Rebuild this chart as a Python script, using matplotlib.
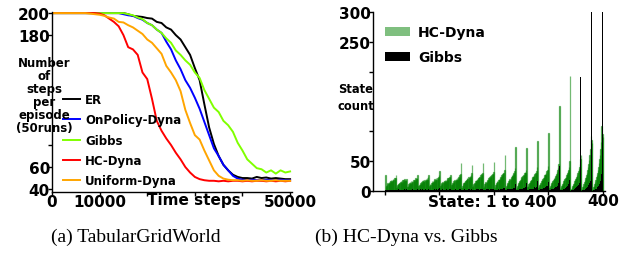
import numpy as np
import matplotlib.pyplot as plt
from matplotlib.patches import Patch

# ---- (a) TabularGridWorld: steps per episode, sampled every 1000 time steps
steps = list(range(0, 50001, 1000))

er = [200] * 16 + [199, 197.5, 197, 196.5, 195.5, 195, 192, 191, 187, 185, 180, 176, 169, 162, 150,
                   139, 117, 96, 81, 70, 62, 57, 53, 51, 50,
                   50, 49.5, 51, 50, 50.5, 49.5, 50, 49.5, 49, 49]
onpolicy = [200] * 15 + [199, 198, 197.5, 195.5, 194, 191, 189, 185, 182, 174, 167, 157, 149, 139, 132,
                         123, 113, 101, 89, 77, 70, 62, 57, 52, 49.5, 48.5,
                         48, 48.5, 48, 48, 48.5, 48, 48, 48.5, 48, 48]
gibbs = [200] * 16 + [199, 198, 196, 194.5, 191, 189, 185, 182, 177, 173, 166, 162, 157, 153, 146,
                      141, 130, 122, 114, 110, 102, 98, 92, 82, 75, 67, 63, 59, 58, 55, 57, 54, 57, 55, 56]
hc_dyna = [200] * 10 + [199.5, 198, 195, 192, 188, 180, 169, 167, 162, 146, 140, 122, 102, 93, 86,
                        80, 73, 67, 60, 55, 51, 49, 48, 47.5,
                        47.5, 47, 47.5, 47, 47.5, 47.5, 47, 47.5, 47, 47.5, 47.5, 47, 47.5, 47, 47.5, 47, 47.5]
uniform = [200] * 8 + [199.5, 199, 198.5, 197.5, 196, 195, 192, 191.5, 189, 187, 184, 181, 176, 173, 168,
                       163, 152, 146, 139, 129, 112, 100, 89, 85, 75, 66, 57, 52, 49.5, 48.5,
                       48, 48, 47.5, 48, 47.5, 47.5, 48, 47.5, 47.5, 48, 47.5, 47.5, 47.5]

curves = [('ER', er, 'black'), ('OnPolicy-Dyna', onpolicy, 'blue'), ('Gibbs', gibbs, '#80ff00'),
          ('HC-Dyna', hc_dyna, 'red'), ('Uniform-Dyna', uniform, 'orange')]

# ---- (b) state visit counts, 20 rows of 20 states
hc_rows = [
    [27, 6, 9, 11, 13, 12, 15, 14, 17, 16, 18, 15, 19, 17, 20, 18, 21, 19, 22, 27],
    [5, 8, 10, 12, 11, 14, 13, 15, 17, 14, 16, 18, 15, 19, 17, 20, 18, 16, 19, 20],
    [6, 9, 11, 10, 13, 15, 12, 16, 14, 17, 15, 18, 16, 19, 17, 21, 18, 20, 22, 27],
    [5, 8, 10, 12, 14, 11, 15, 13, 16, 18, 15, 17, 19, 16, 20, 18, 21, 19, 23, 27],
    [6, 9, 12, 10, 14, 16, 13, 17, 15, 18, 20, 17, 19, 21, 18, 22, 20, 23, 26, 33],
    [5, 9, 11, 13, 12, 15, 14, 17, 16, 18, 15, 19, 17, 20, 22, 19, 21, 23, 24, 27],
    [6, 10, 12, 14, 13, 16, 15, 18, 17, 20, 19, 22, 18, 21, 24, 22, 26, 24, 28, 47],
    [5, 9, 11, 13, 15, 14, 17, 16, 19, 18, 21, 20, 23, 19, 22, 25, 23, 27, 30, 44],
    [6, 10, 12, 14, 13, 16, 18, 17, 20, 19, 22, 21, 24, 23, 26, 24, 28, 27, 31, 47],
    [5, 8, 11, 13, 15, 14, 17, 19, 18, 21, 20, 23, 22, 25, 24, 27, 29, 28, 32, 48],
    [4, 7, 10, 12, 14, 16, 15, 18, 20, 19, 22, 24, 23, 26, 25, 29, 31, 30, 35, 60],
    [4, 7, 9, 12, 14, 13, 16, 18, 20, 19, 22, 24, 26, 25, 28, 30, 29, 33, 38, 74],
    [4, 6, 9, 11, 13, 15, 17, 16, 19, 21, 23, 22, 25, 27, 26, 30, 32, 31, 36, 72],
    [3, 6, 8, 11, 13, 15, 17, 19, 18, 21, 23, 25, 24, 27, 29, 31, 30, 34, 40, 83],
    [3, 5, 8, 10, 12, 14, 16, 18, 20, 19, 22, 24, 26, 28, 27, 31, 33, 36, 42, 98],
    [3, 5, 7, 9, 11, 13, 15, 17, 19, 21, 20, 23, 25, 27, 29, 32, 35, 38, 45, 143],
    [2, 4, 6, 8, 10, 12, 14, 16, 18, 20, 22, 24, 26, 28, 30, 33, 36, 40, 50, 192],
    [2, 4, 6, 8, 10, 12, 14, 16, 18, 20, 22, 24, 27, 30, 33, 37, 41, 46, 53, 60],
    [2, 4, 6, 9, 12, 15, 18, 21, 24, 27, 31, 35, 40, 45, 52, 60, 70, 92, 85, 80],
    [2, 4, 6, 9, 12, 15, 19, 23, 27, 31, 36, 41, 47, 53, 60, 70, 82, 109, 95, 90],
]
gibbs_rows = [
    [2, 1, 2, 3, 1, 2, 2, 1, 3, 2, 1, 2, 3, 2, 1, 2, 2, 3, 2, 3],
    [1, 2, 1, 2, 3, 2, 1, 2, 2, 1, 3, 2, 2, 1, 2, 3, 2, 2, 1, 3],
    [2, 1, 2, 1, 2, 3, 2, 2, 1, 2, 3, 1, 2, 2, 3, 2, 1, 2, 3, 4],
    [1, 2, 2, 1, 3, 2, 1, 2, 3, 2, 2, 1, 2, 3, 2, 2, 3, 2, 3, 4],
    [2, 1, 2, 2, 1, 3, 2, 1, 2, 2, 3, 2, 1, 2, 3, 2, 2, 3, 3, 5],
    [1, 2, 1, 2, 2, 3, 2, 2, 1, 3, 2, 2, 3, 2, 2, 3, 2, 3, 3, 4],
    [2, 1, 2, 2, 3, 2, 1, 2, 3, 2, 2, 3, 2, 3, 2, 3, 3, 2, 4, 6],
    [1, 2, 2, 1, 2, 3, 2, 2, 3, 2, 3, 2, 3, 2, 3, 3, 2, 4, 3, 6],
    [2, 1, 2, 2, 3, 2, 2, 3, 2, 3, 2, 3, 3, 2, 3, 4, 3, 3, 4, 7],
    [1, 2, 1, 2, 2, 3, 2, 3, 2, 3, 3, 2, 3, 4, 3, 3, 4, 3, 4, 8],
    [1, 2, 2, 1, 2, 3, 2, 3, 3, 2, 3, 4, 3, 3, 4, 3, 4, 5, 5, 10],
    [1, 1, 2, 2, 3, 2, 3, 2, 3, 4, 3, 3, 4, 4, 3, 5, 4, 5, 6, 12],
    [1, 2, 1, 2, 2, 3, 3, 2, 4, 3, 4, 3, 4, 5, 4, 5, 5, 6, 7, 14],
    [1, 1, 2, 2, 3, 2, 3, 4, 3, 4, 4, 5, 4, 5, 6, 5, 6, 7, 8, 16],
    [1, 1, 2, 2, 2, 3, 3, 4, 3, 4, 5, 4, 5, 6, 6, 7, 8, 9, 10, 15],
    [1, 1, 1, 2, 2, 3, 3, 3, 4, 4, 5, 5, 6, 6, 7, 8, 9, 11, 14, 42],
    [1, 1, 1, 2, 2, 2, 3, 3, 4, 4, 5, 5, 6, 7, 8, 9, 11, 13, 18, 140],
    [0, 1, 1, 1, 2, 2, 3, 3, 4, 5, 5, 6, 7, 8, 10, 12, 14, 18, 191, 420],
    [0, 1, 1, 1, 2, 2, 3, 3, 4, 5, 6, 7, 8, 10, 12, 14, 17, 22, 400, 450],
    [0, 1, 1, 2, 2, 3, 3, 4, 5, 6, 7, 8, 10, 12, 14, 17, 21, 28, 420, 480],
]
hc_counts = np.concatenate(hc_rows)
gibbs_counts = np.concatenate(gibbs_rows)
states = np.arange(1, len(hc_counts) + 1)

W, H = 632, 255
fig = plt.figure(figsize=(W / 100, H / 100), dpi=100)
bold = dict(fontweight='bold', family='DejaVu Sans')


def style(ax):
    for s in ['top', 'right']:
        ax.spines[s].set_visible(False)
    for s in ['left', 'bottom']:
        ax.spines[s].set_linewidth(1.0)
    ax.tick_params(direction='out', length=3, width=1, labelsize=11, pad=-1.5)
    for lab in ax.get_xticklabels() + ax.get_yticklabels():
        lab.set_fontweight('bold')


# left panel
ax1 = fig.add_axes([52 / W, 62 / H, 240 / W, 180 / H])
for name, vals, c in curves:
    ax1.plot(steps, vals, color=c, lw=1.4, label=name)
ax1.set_xlim(0, 50400)
ax1.set_ylim(37.3, 201)
ax1.set_xticks([0, 10000, 20000, 30000, 40000, 50000])
ax1.set_xticklabels(['0', '10000', '', '', '', '50000'])
ax1.set_yticks([40, 60, 80, 180, 200])
ax1.set_yticklabels(['40', '60', '', '180', '200'])
style(ax1)
ax1.legend(loc='upper left', bbox_to_anchor=(0.046, 0.55), frameon=False, borderpad=0,
           borderaxespad=0, handlelength=1.45, handletextpad=0.4, labelspacing=0.62,
           prop=dict(weight='bold', size=8.5))
fig.text(44 / W, 1 - 96 / H, 'Number\nof\nsteps\nper\nepisode\n(50runs)', ha='center', va='center',
         fontsize=8.5, linespacing=1.0, **bold)
fig.text(194 / W, 1 - 201 / H, 'Time steps', ha='center', va='center', fontsize=11, **bold)

# right panel
green = (0, 0.5, 0, 0.5)
ax2 = fig.add_axes([373 / W, 63 / H, 232 / W, 179 / H])
ax2.bar(states, hc_counts, width=1, color=green, edgecolor=(0, 0.5, 0, 0.55), lw=0.9)
ax2.bar(states, gibbs_counts, width=1, color='black', lw=0)
ax2.set_xlim(-22, 404)
ax2.set_ylim(0, 300)
ax2.set_xticks([0, 100, 200, 300, 400])
ax2.set_xticklabels(['', '', '', '', '400'])
ax2.set_yticks([0, 50, 100, 200, 250, 300])
ax2.set_yticklabels(['0', '50', '', '', '250', '300'])
style(ax2)
handles = [Patch(facecolor=green, lw=0, label='HC-Dyna'), Patch(facecolor='black', lw=0, label='Gibbs')]
ax2.legend(handles=handles, loc='upper left', bbox_to_anchor=(0.052, 0.927), frameon=False,
           borderpad=0, borderaxespad=0, handlelength=1.8, handleheight=0.65, handletextpad=0.58,
           labelspacing=0.8, prop=dict(weight='bold', size=10))
fig.text(338 / W, 1 - 98 / H, 'State\ncount', ha='left', va='center', fontsize=8.3,
         linespacing=1.35, **bold)
fig.text(492 / W, 1 - 203 / H, 'State: 1 to 400', ha='center', va='center', fontsize=11, **bold)

# captions
fig.text(136 / W, 1 - 237 / H, '(a) TabularGridWorld', ha='center', va='center',
         family='Liberation Serif', fontsize=14)
fig.text(406 / W, 1 - 237 / H, '(b) HC-Dyna vs. Gibbs', ha='center', va='center',
         family='Liberation Serif', fontsize=14)

fig.savefig('out.png', dpi=100)
